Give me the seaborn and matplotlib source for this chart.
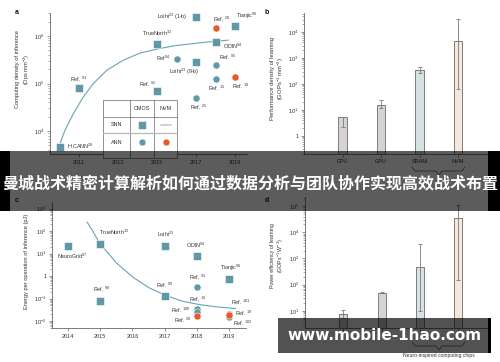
import numpy as np
import pandas as pd
import matplotlib
matplotlib.use("Agg")
import matplotlib.pyplot as plt
import seaborn as sns
from matplotlib.patches import Rectangle
from matplotlib.lines import Line2D
from matplotlib.ticker import FixedLocator, LogLocator, NullFormatter, FuncFormatter

# ---------------- data ----------------
# panel a: computing density of inference
a_names = ["HICANN$^{28}$", "Ref. $^{91}$", "TrueNorth$^{32}$", "Ref. $^{92}$", "Ref$^{94}$",
           "Loihi$^{23}$ (1-b)", "Loihi$^{23}$ (9-b)", "Ref. $^{25}$", "ODIN$^{94}$", "Ref. $^{95}$",
           "Ref. $^{15}$", "Ref. $^{28}$", "Tianjic$^{96}$", "Ref. $^{19}$"]
a_year = [2010, 2011, 2015, 2015, 2016, 2017, 2017, 2017, 2018, 2018, 2018, 2018, 2019, 2019]
a_density = [4.7e3, 8.2e4, 6.7e5, 6.8e4, 3.3e5, 2.5e6, 2.8e5, 4.9e4, 7.4e5, 2.45e5, 1.23e5, 1.45e6, 1.6e6, 1.4e5]
a_type = ["SNN-CMOS", "SNN-CMOS", "SNN-CMOS", "SNN-CMOS", "ANN-CMOS", "SNN-CMOS", "SNN-CMOS",
          "ANN-CMOS", "SNN-CMOS", "ANN-CMOS", "ANN-CMOS", "ANN-NVM", "SNN-CMOS", "ANN-NVM"]
a_fit_year = [2010.03, 2010.28, 2010.71, 2011.22, 2011.73, 2012.42, 2013.27, 2014.13, 2014.98,
              2015.84, 2016.69, 2017.55, 2018.64]
a_fit_density = [5600, 10500, 23400, 52500, 100000, 190000, 309000, 437000, 525000,
                 617000, 676000, 741000, 813000]

# panel c: energy per operation of inference
c_names = ["NeuroGrid$^{97}$", "TrueNorth$^{32}$", "Ref. $^{98}$", "Loihi$^{23}$", "Ref. $^{99}$",
           "ODIN$^{94}$", "Ref. $^{93}$", "Ref. $^{16}$", "Ref. $^{100}$", "Ref. $^{28}$",
           "Tianjic$^{96}$", "Ref. $^{101}$", "Ref. $^{102}$", "Ref. $^{19}$"]
c_year = [2014, 2015, 2015, 2017, 2017, 2018, 2018, 2018, 2018, 2018, 2019, 2019, 2019, 2019]
c_energy = [21, 27, 0.081, 23, 0.135, 8.1, 0.32, 0.036, 0.026, 0.016, 0.78, 0.021, 0.015, 0.0195]
c_type = ["SNN-CMOS", "SNN-CMOS", "SNN-CMOS", "SNN-CMOS", "SNN-CMOS", "SNN-CMOS", "ANN-CMOS",
          "ANN-CMOS", "ANN-CMOS", "ANN-NVM", "SNN-CMOS", "ANN-CMOS", "ANN-CMOS", "ANN-NVM"]
c_fit_year = [2014.59, 2014.77, 2014.98, 2015.5, 2016.01, 2016.53, 2017.05, 2017.56, 2018.08, 2018.6, 2019.21]
c_fit_energy = [257, 98, 29.5, 3.9, 0.91, 0.295, 0.135, 0.076, 0.054, 0.043, 0.036]

# panels b and d: learning
chips = ["CPU", "GPU", "SRAM", "NVM"]
b_perf = [5.1, 15, 345, 4400]
b_low = [2.2, 12.3, 260, 63]
b_high = [5.5, 23.6, 465, 31000]
d_eff = [7.6, 50, 480, 34000]
d_low = [5.5, 47, 9.8, 150]
d_high = [11, 54, 3450, 110000]

# ---------------- style ----------------
sns.set_theme(style="ticks")
plt.rcParams['font.family'] = ['Liberation Sans', 'DejaVu Sans']
plt.rcParams['mathtext.default'] = 'regular'

TEAL = '#5f98a7'
ORANGE = '#e9582c'
TXT = '#333333'
SPINE = '#666666'
palette = {"SNN-CMOS": TEAL, "ANN-CMOS": TEAL, "ANN-NVM": ORANGE}
markers = {"SNN-CMOS": "s", "ANN-CMOS": "o", "ANN-NVM": "o"}
bar_colors = ['#d8d3d1', '#d8d3d1', '#d5e3e7', '#fbe6d6']

W, H = 500, 362
fig = plt.figure(figsize=(5, 3.62), dpi=100)


def fx(px):
    return px / W


def fy(py):
    return 1 - py / H


def box(l, t, r, b):
    return [fx(l), fy(b), fx(r) - fx(l), fy(t) - fy(b)]


def logfmt(v, pos):
    e = int(round(np.log10(v)))
    return '1' if e == 0 else '10$^{%d}$' % e


def style_axes(ax):
    sns.despine(ax=ax)
    for s in ('left', 'bottom'):
        ax.spines[s].set_color(SPINE)
        ax.spines[s].set_linewidth(0.6)
    ax.tick_params(axis='both', which='major', length=2.5, width=0.5, color=SPINE,
                   labelsize=4, labelcolor=TXT, pad=1.5)
    ax.tick_params(axis='both', which='minor', length=1.4, width=0.4, color=SPINE)
    ax.set_xlabel('')
    ax.set_ylabel('')


def set_log_y(ax, lo, hi, majors):
    ax.set_yscale('log')
    ax.set_ylim(lo, hi)
    ax.yaxis.set_major_locator(FixedLocator(majors))
    ax.yaxis.set_major_formatter(FuncFormatter(logfmt))
    ax.yaxis.set_minor_locator(LogLocator(base=10, subs=np.arange(2, 10), numticks=20))
    ax.yaxis.set_minor_formatter(NullFormatter())


def label_points(ax, names, xs, ys, offsets):
    for n, x, y in zip(names, xs, ys):
        dx, dy, ha = offsets[n]
        ax.annotate(n, (x, y), xytext=(dx, dy), textcoords='offset pixels',
                    ha=ha, va='center', fontsize=3.9, color=TXT)


# ---------------- panel a ----------------
axa = fig.add_axes(box(50, 13, 247, 154))
set_log_y(axa, 10 ** 3.52, 10 ** 6.48, [1e4, 1e5, 1e6])
axa.set_xlim(2009.51, 2019.6)
sns.lineplot(x=a_fit_year, y=a_fit_density, ax=axa, color='#6aa3b0', lw=0.8, sort=False,
             estimator=None)
dfa = pd.DataFrame({"year": a_year, "val": a_density, "type": a_type})
for t, s in (("SNN-CMOS", 34), ("ANN-CMOS", 26), ("ANN-NVM", 26)):
    sub = dfa[dfa.type == t]
    sns.scatterplot(data=sub, x="year", y="val", ax=axa, color=palette[t], marker=markers[t],
                    s=s, edgecolor='white', linewidth=0.4, legend=False, zorder=3)
axa.set_xticks([2011, 2013, 2015, 2017, 2019])
style_axes(axa)
a_off = {
    "HICANN$^{28}$": (7, 0, 'left'), "Ref. $^{91}$": (0, 8, 'center'),
    "TrueNorth$^{32}$": (0, 11, 'center'), "Ref. $^{92}$": (-9, 7, 'center'),
    "Ref$^{94}$": (-6, 0, 'right'), "Loihi$^{23}$ (1-b)": (-9, 0, 'right'),
    "Loihi$^{23}$ (9-b)": (-12, -10, 'center'), "Ref. $^{25}$": (2, -9, 'center'),
    "ODIN$^{94}$": (7, -4, 'left'), "Ref. $^{95}$": (3, 8, 'left'),
    "Ref. $^{15}$": (1, -9, 'center'), "Ref. $^{28}$": (6, 9, 'center'),
    "Tianjic$^{96}$": (1, 10, 'left'), "Ref. $^{19}$": (5, -10, 'center'),
}
label_points(axa, a_names, a_year, a_density, a_off)

# legend table for panel a
tl = dict(transform=fig.transFigure, zorder=5)
fig.add_artist(Rectangle((fx(103), fy(158)), fx(177) - fx(103), fy(100) - fy(158),
                         facecolor='white', edgecolor=SPINE, lw=0.5, **tl))
for xv in (130, 154):
    fig.add_artist(Line2D([fx(xv), fx(xv)], [fy(100), fy(158)], color=SPINE, lw=0.5, **tl))
fig.add_artist(Line2D([fx(103), fx(177)], [fy(117), fy(117)], color=SPINE, lw=0.5, **tl))
fig.add_artist(Line2D([fx(103), fx(177)], [fy(133), fy(133)], color='#bdbdbd', lw=1.0, **tl))
for txt, px, py in (("CMOS", 142, 108.5), ("NVM", 166, 108.5), ("SNN", 116.5, 125), ("ANN", 116.5, 142)):
    fig.text(fx(px), fy(py), txt, fontsize=3.9, color=TXT, ha='center', va='center', zorder=6)
fig.add_artist(Line2D([fx(142)], [fy(125)], marker='s', ms=5.6, color=TEAL, mec='white', mew=0.4, **tl))
fig.add_artist(Line2D([fx(161), fx(171)], [fy(125), fy(125)], color='#c8c8c8', lw=1.2, **tl))
fig.add_artist(Line2D([fx(142)], [fy(142)], marker='o', ms=5.0, color=TEAL, mec='white', mew=0.4, **tl))
fig.add_artist(Line2D([fx(166)], [fy(142)], marker='o', ms=5.0, color=ORANGE, mec='white', mew=0.4, **tl))


# ---------------- bar panels ----------------
def bar_panel(rect, vals, lows, highs, ylo, yhi, majors, show_xlabels=True):
    ax = fig.add_axes(rect)
    sns.barplot(x=chips, y=vals, hue=chips, palette=bar_colors, ax=ax, width=0.215,
                edgecolor='#6b6b6b', linewidth=0.6, legend=False)
    vals_a = np.array(vals)
    ax.errorbar(np.arange(len(chips)), vals_a,
                yerr=[vals_a - np.array(lows), np.array(highs) - vals_a],
                fmt='none', ecolor='#7a7a7a', elinewidth=0.6, capsize=1.6, capthick=0.6)
    set_log_y(ax, ylo, yhi, majors)
    ax.set_xlim(-1.0, 3.75)
    style_axes(ax)
    ax.tick_params(axis='x', which='major', length=2, pad=1.5, labelbottom=show_xlabels)
    return ax


axb = bar_panel(box(304, 13, 487, 154), b_perf, b_low, b_high, 0.2, 10 ** 4.73,
                [1, 10, 100, 1e3, 1e4])
# panel d's category labels lie under the watermark in the reference
axd = bar_panel(box(305, 197, 487, 328), d_eff, d_low, d_high, 2.2, 10 ** 5.35,
                [10, 100, 1e3, 1e4, 1e5], show_xlabels=False)


def brace(y0):
    xs = [412, 415, 436, 439, 442, 462, 465]
    ys = [y0, y0 + 4, y0 + 4, y0 + 8, y0 + 4, y0 + 4, y0]
    fig.add_artist(Line2D([fx(v) for v in xs], [fy(v) for v in ys], color='#555555', lw=0.5,
                          transform=fig.transFigure, zorder=4))


brace(167)
brace(342)
fig.text(fx(439), fy(355), "Neuro-inspired computing chips", fontsize=3.6, color=TXT,
         ha='center', va='center')

# ---------------- panel c ----------------
axc = fig.add_axes(box(52, 202, 246, 328))
set_log_y(axc, 10 ** -2.31, 10 ** 3.3, [1e-2, 1e-1, 1, 10, 100, 1e3])
axc.set_xlim(2013.5, 2019.53)
sns.lineplot(x=c_fit_year, y=c_fit_energy, ax=axc, color='#6aa3b0', lw=0.8, sort=False,
             estimator=None)
dfc = pd.DataFrame({"year": c_year, "val": c_energy, "type": c_type})
for t, s in (("SNN-CMOS", 34), ("ANN-CMOS", 26), ("ANN-NVM", 26)):
    sub = dfc[dfc.type == t]
    sns.scatterplot(data=sub, x="year", y="val", ax=axc, color=palette[t], marker=markers[t],
                    s=s, edgecolor='white', linewidth=0.4, legend=False, zorder=3)
axc.set_xticks([2014, 2015, 2016, 2017, 2018, 2019])
style_axes(axc)
c_off = {
    "NeuroGrid$^{97}$": (4, -10, 'center'), "TrueNorth$^{32}$": (-1, 12, 'left'),
    "Ref. $^{98}$": (1, 11, 'center'), "Loihi$^{23}$": (1, 11, 'center'),
    "Ref. $^{99}$": (0, 10, 'center'), "ODIN$^{94}$": (-1, 10, 'center'),
    "Ref. $^{93}$": (1, 10, 'center'), "Ref. $^{16}$": (1, 9, 'center'),
    "Ref. $^{100}$": (-6, 1.5, 'right'), "Ref. $^{28}$": (-5, -4, 'right'),
    "Tianjic$^{96}$": (2, 11, 'center'), "Ref. $^{101}$": (2, 11, 'left'),
    "Ref. $^{102}$": (4, -6.5, 'left'), "Ref. $^{19}$": (6, 1.5, 'left'),
}
label_points(axc, c_names, c_year, c_energy, c_off)

# ---------------- axis titles / panel letters ----------------
ylab = dict(rotation=90, ha='center', va='center', color=TXT, multialignment='center')
fig.text(fx(23.7), fy(69), "Computing density of inference\n(Ops mm$^{-2}$)", fontsize=4.1, **ylab)
fig.text(fx(278), fy(79), "Performance density of learning\n(GOPs$^{-1}$ mm$^{-2}$)", fontsize=4.2, **ylab)
fig.text(fx(27), fy(261), "Energy per operation of inference (pJ)", fontsize=4.1, **ylab)
fig.text(fx(278), fy(256), "Power efficiency of learning\n(GOPs$^{-1}$ W$^{-1}$)", fontsize=3.8, **ylab)
for letter, px, py in (("a", 17, 12), ("b", 267, 12), ("c", 17, 200), ("d", 267, 200)):
    fig.text(fx(px), fy(py), letter, fontsize=5, fontweight='bold', color='#111111',
             ha='center', va='center')

# ---------------- overlay banner and watermark ----------------
ov = dict(transform=fig.transFigure)
fig.add_artist(Rectangle((0, fy(211)), 1, fy(151) - fy(211), facecolor='black', alpha=0.64,
                         lw=0, zorder=20, **ov))
fig.add_artist(Rectangle((0, fy(211)), fx(10), fy(151) - fy(211), facecolor='black',
                         lw=0, zorder=21, **ov))
fig.add_artist(Rectangle((fx(488), fy(211)), fx(12), fy(151) - fy(211), facecolor='black',
                         lw=0, zorder=21, **ov))
fig.text(0.5, fy(183), "曼城战术精密计算解析如何通过数据分析与团队协作实现高效战术布置",
         color='white', fontsize=11.5, fontweight='bold',
         family=['Noto Sans CJK SC', 'DejaVu Sans'], ha='center', va='center', zorder=22)

fig.add_artist(Rectangle((fx(278), fy(353)), fx(490) - fx(278), fy(318) - fy(353),
                         facecolor='black', alpha=0.68, lw=0, zorder=20, **ov))
fig.add_artist(Rectangle((fx(488), fy(353)), fx(3), fy(318) - fy(353), facecolor='black',
                         lw=0, zorder=21, **ov))
fig.text(fx(385), fy(336), "www.mobile-1hao.com", color='white', fontsize=11,
         fontweight='bold', family=['DejaVu Sans'], ha='center', va='center', zorder=22)

fig.savefig('out.png', dpi=100)
